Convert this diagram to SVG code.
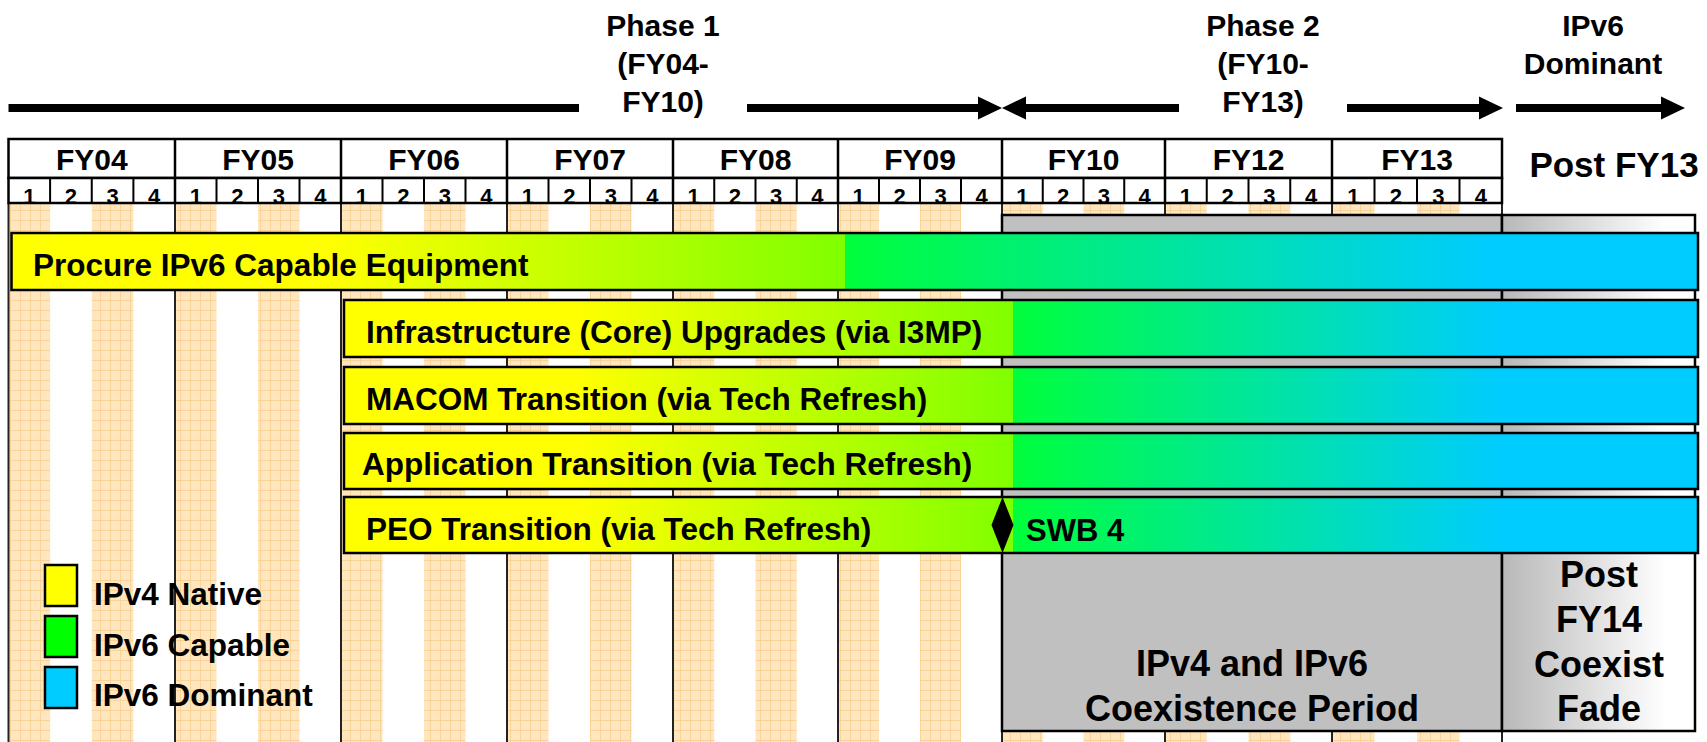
<svg xmlns="http://www.w3.org/2000/svg" width="1707" height="742" viewBox="0 0 1707 742">
<style>
.t{font-family:"Liberation Sans",Arial,sans-serif;font-weight:bold;fill:#000}
.ph{font-size:30px;text-anchor:middle}
.yr{font-size:30px;text-anchor:middle}
.q{font-size:22px;text-anchor:middle}
.bt{font-size:31.5px}
.big{font-size:36px;text-anchor:middle}
.cell{fill:#fff;stroke:#000;stroke-width:2.5}
.div{stroke:#000;stroke-width:2.5}
.qd{stroke:#000;stroke-width:2}
.vl{stroke:#222;stroke-width:2}
.st{fill:url(#grid)}
.outline{fill:none;stroke:#000;stroke-width:2.5}
.shaft{stroke:#000;stroke-width:8;fill:none}
.lg{stroke:#000;stroke-width:2.5}
</style>
<defs>
<pattern id="grid" width="10" height="10" patternUnits="userSpaceOnUse">
<rect width="10" height="10" fill="#FFE6BF"/>
<path d="M0 0.5H10M0.5 0V10" stroke="#F8CF8E" stroke-width="0.8"/>
</pattern>
<marker id="arr" markerUnits="userSpaceOnUse" markerWidth="24" markerHeight="24" refX="0" refY="12" orient="auto" viewBox="0 0 24 24">
<path d="M0 0.5L24 12L0 23.5Z" fill="#000"/>
</marker>
<linearGradient id="gA1" gradientUnits="userSpaceOnUse" x1="11.5" y1="0" x2="845" y2="0">
<stop offset="0" stop-color="#FFFF00"/><stop offset="0.38" stop-color="#FFFF00"/><stop offset="1" stop-color="#80FF00"/>
</linearGradient>
<linearGradient id="gB1" gradientUnits="userSpaceOnUse" x1="845" y1="0" x2="1490" y2="0">
<stop offset="0" stop-color="#00FF3C"/><stop offset="1" stop-color="#00CCFF"/>
</linearGradient>
<linearGradient id="gA2" gradientUnits="userSpaceOnUse" x1="344" y1="0" x2="1013" y2="0">
<stop offset="0" stop-color="#FFFF00"/><stop offset="0.35" stop-color="#FFFF00"/><stop offset="1" stop-color="#80FF00"/>
</linearGradient>
<linearGradient id="gB2" gradientUnits="userSpaceOnUse" x1="1013" y1="0" x2="1502" y2="0">
<stop offset="0" stop-color="#00FF3C"/><stop offset="1" stop-color="#00CCFF"/>
</linearGradient>
<linearGradient id="fade" x1="0" y1="0" x2="1" y2="0">
<stop offset="0" stop-color="#B8B8B8"/><stop offset="0.85" stop-color="#FFFFFF"/><stop offset="1" stop-color="#FFFFFF"/>
</linearGradient>
</defs>
<rect width="1707" height="742" fill="#fff"/>

<g id="stripes">
<rect class="st" x="8.5" y="203" width="41.6" height="539"/>
<rect class="st" x="91.75" y="203" width="41.6" height="539"/>
<rect class="st" x="175" y="203" width="41.5" height="539"/>
<rect class="st" x="258" y="203" width="41.5" height="539"/>
<rect class="st" x="341" y="203" width="41.5" height="539"/>
<rect class="st" x="424" y="203" width="41.5" height="539"/>
<rect class="st" x="507" y="203" width="41.5" height="539"/>
<rect class="st" x="590" y="203" width="41.5" height="539"/>
<rect class="st" x="673" y="203" width="41.25" height="539"/>
<rect class="st" x="755.5" y="203" width="41.25" height="539"/>
<rect class="st" x="838" y="203" width="41" height="539"/>
<rect class="st" x="920" y="203" width="41" height="539"/>
<rect class="st" x="1002" y="203" width="40.75" height="539"/>
<rect class="st" x="1083.5" y="203" width="40.75" height="539"/>
<rect class="st" x="1165" y="203" width="41.75" height="539"/>
<rect class="st" x="1248.5" y="203" width="41.75" height="539"/>
<rect class="st" x="1332" y="203" width="42.5" height="539"/>
<rect class="st" x="1417" y="203" width="42.5" height="539"/>
</g>

<g id="year-lines">
<path class="vl" d="M8.5 203V742M175 203V742M341 203V742M507 203V742M673 203V742M838 203V742M1002 203V742M1165 203V742M1332 203V742M1502 203V742"/>
</g>

<g id="coexistence-period">
<rect x="1002" y="215" width="500" height="516" fill="#C0C0C0" stroke="#000" stroke-width="2.5"/>
<text class="t big" x="1252" y="676">IPv4 and IPv6</text>
<text class="t big" x="1252" y="721">Coexistence Period</text>
</g>
<g id="coexist-fade">
<rect x="1502" y="215" width="193" height="516" fill="url(#fade)" stroke="#000" stroke-width="2.5"/>
<text class="t big" x="1599" y="587">Post</text>
<text class="t big" x="1599" y="632">FY14</text>
<text class="t big" x="1599" y="677">Coexist</text>
<text class="t big" x="1599" y="721">Fade</text>
</g>

<g id="header">
<rect class="cell" x="8.5" y="139" width="1493.5" height="39"/>
<rect class="cell" x="8.5" y="178" width="1493.5" height="25"/>
<path class="div" d="M175 139V203M341 139V203M507 139V203M673 139V203M838 139V203M1002 139V203M1165 139V203M1332 139V203"/>
<path class="qd" d="M50.1 178V203M91.75 178V203M133.4 178V203M216.5 178V203M258 178V203M299.5 178V203M382.5 178V203M424 178V203M465.5 178V203M548.5 178V203M590 178V203M631.5 178V203M714.25 178V203M755.5 178V203M796.75 178V203M879 178V203M920 178V203M961 178V203M1042.75 178V203M1083.5 178V203M1124.25 178V203M1206.75 178V203M1248.5 178V203M1290.25 178V203M1374.5 178V203M1417 178V203M1459.5 178V203"/>
<text class="t yr" x="91.75" y="170">FY04</text>
<text class="t yr" x="258" y="170">FY05</text>
<text class="t yr" x="424" y="170">FY06</text>
<text class="t yr" x="590" y="170">FY07</text>
<text class="t yr" x="755.5" y="170">FY08</text>
<text class="t yr" x="920" y="170">FY09</text>
<text class="t yr" x="1083.5" y="170">FY10</text>
<text class="t yr" x="1248.5" y="170">FY12</text>
<text class="t yr" x="1417" y="170">FY13</text>
<g class="t q">
<text x="29.3" y="204">1</text><text x="70.9" y="204">2</text><text x="112.6" y="204">3</text><text x="154.2" y="204">4</text>
<text x="195.75" y="204">1</text><text x="237.25" y="204">2</text><text x="278.75" y="204">3</text><text x="320.25" y="204">4</text>
<text x="361.75" y="204">1</text><text x="403.25" y="204">2</text><text x="444.75" y="204">3</text><text x="486.25" y="204">4</text>
<text x="527.75" y="204">1</text><text x="569.25" y="204">2</text><text x="610.75" y="204">3</text><text x="652.25" y="204">4</text>
<text x="693.6" y="204">1</text><text x="734.9" y="204">2</text><text x="776.1" y="204">3</text><text x="817.4" y="204">4</text>
<text x="858.5" y="204">1</text><text x="899.5" y="204">2</text><text x="940.5" y="204">3</text><text x="981.5" y="204">4</text>
<text x="1022.4" y="204">1</text><text x="1063.1" y="204">2</text><text x="1103.9" y="204">3</text><text x="1144.6" y="204">4</text>
<text x="1185.9" y="204">1</text><text x="1227.6" y="204">2</text><text x="1269.4" y="204">3</text><text x="1311.1" y="204">4</text>
<text x="1353.25" y="204">1</text><text x="1395.75" y="204">2</text><text x="1438.25" y="204">3</text><text x="1480.75" y="204">4</text>
</g>
<text class="t" x="1614" y="177" font-size="35" text-anchor="middle">Post FY13</text>
</g>

<g id="phase-labels">
<text class="t ph" x="663" y="36">Phase 1</text>
<text class="t ph" x="663" y="74">(FY04-</text>
<text class="t ph" x="663" y="112">FY10)</text>
<text class="t ph" x="1263" y="36">Phase 2</text>
<text class="t ph" x="1263" y="74">(FY10-</text>
<text class="t ph" x="1263" y="112">FY13)</text>
<text class="t ph" x="1593" y="36">IPv6</text>
<text class="t ph" x="1593" y="74">Dominant</text>
</g>

<g id="connectors">
<path class="shaft" d="M8.5 108H579"/>
<path class="shaft" d="M747 108H978" marker-end="url(#arr)"/>
<path class="shaft" d="M1179 108H1026" marker-end="url(#arr)"/>
<path class="shaft" d="M1347 108H1479" marker-end="url(#arr)"/>
<path class="shaft" d="M1516 108H1661" marker-end="url(#arr)"/>
</g>

<g id="bar-procure">
<rect x="11.5" y="233" width="833.5" height="57" fill="url(#gA1)"/>
<rect x="845" y="233" width="853" height="57" fill="url(#gB1)"/>
<rect class="outline" x="11.5" y="233" width="1686.5" height="57"/>
<text class="t bt" x="33" y="276">Procure IPv6 Capable Equipment</text>
</g>
<g id="bar-infrastructure">
<rect x="344" y="300" width="669" height="57" fill="url(#gA2)"/>
<rect x="1013" y="300" width="685" height="57" fill="url(#gB2)"/>
<rect class="outline" x="344" y="300" width="1354" height="57"/>
<text class="t bt" x="366" y="343">Infrastructure (Core) Upgrades (via I3MP)</text>
</g>
<g id="bar-macom">
<rect x="344" y="367" width="669" height="57" fill="url(#gA2)"/>
<rect x="1013" y="367" width="685" height="57" fill="url(#gB2)"/>
<rect class="outline" x="344" y="367" width="1354" height="57"/>
<text class="t bt" x="366" y="410">MACOM Transition (via Tech Refresh)</text>
</g>
<g id="bar-application">
<rect x="344" y="433" width="669" height="56" fill="url(#gA2)"/>
<rect x="1013" y="433" width="685" height="56" fill="url(#gB2)"/>
<rect class="outline" x="344" y="433" width="1354" height="56"/>
<text class="t bt" x="362" y="475">Application Transition (via Tech Refresh)</text>
</g>
<g id="bar-peo">
<rect x="344" y="497" width="669" height="56" fill="url(#gA2)"/>
<rect x="1013" y="497" width="685" height="56" fill="url(#gB2)"/>
<rect class="outline" x="344" y="497" width="1354" height="56"/>
<text class="t bt" x="366" y="540">PEO Transition (via Tech Refresh)</text>
<path id="swb-milestone" d="M1002.5 497L1013.5 525L1002.5 553L991.5 525Z" fill="#000"/>
<text class="t" x="1026" y="541" font-size="31">SWB 4</text>
</g>

<g id="legend">
<g id="legend-ipv4">
<rect class="lg" x="45" y="565" width="32" height="41" fill="#FFFF00"/>
<text class="t bt" x="94" y="605">IPv4 Native</text>
</g>
<g id="legend-ipv6-capable">
<rect class="lg" x="45" y="616" width="32" height="41" fill="#00FF00"/>
<text class="t bt" x="94" y="656">IPv6 Capable</text>
</g>
<g id="legend-ipv6-dominant">
<rect class="lg" x="45" y="667" width="32" height="41" fill="#00CCFF"/>
<text class="t bt" x="94" y="706">IPv6 Dominant</text>
</g>
</g>
</svg>
